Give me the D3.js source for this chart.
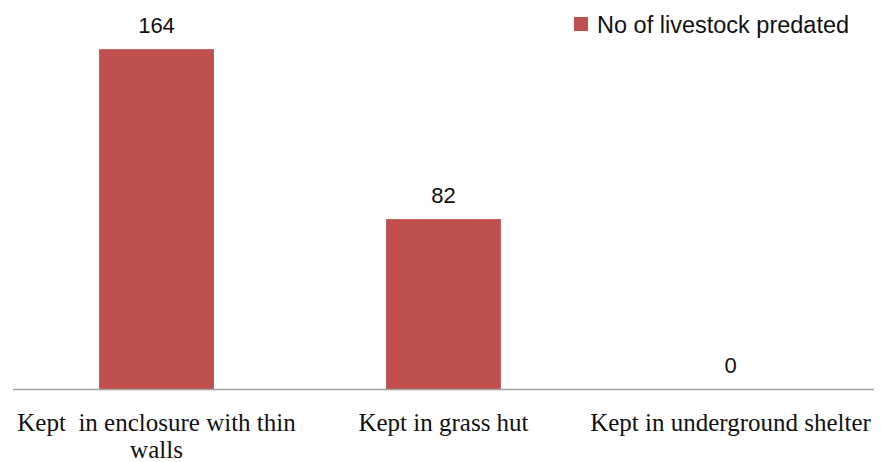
<!DOCTYPE html>
<html>
<head>
<meta charset="utf-8">
<script src="https://cdn.jsdelivr.net/npm/d3@7"></script>
<style>
  html, body { margin: 0; padding: 0; background: #fff; }
  svg { display: block; }
</style>
</head>
<body>
<svg id="chart" width="881" height="462"></svg>
<script>
// Livestock predation by housing type
const categories = [
  ["Kept  in enclosure with thin", "walls"],
  ["Kept in grass hut"],
  ["Kept in underground shelter"]
];
const values = [164, 82, 0];
const seriesName = "No of livestock predated";
const yMax = 180;

const svg = d3.select("#chart");
const plot = { left: 13, right: 874, top: 16, bottom: 389 };
const barColor = "#C0504D";
const sansFont = "'Liberation Sans', Arial, sans-serif";
const serifFont = "'Liberation Serif', 'Times New Roman', serif";

const x = d3.scaleBand()
  .domain(d3.range(categories.length))
  .range([plot.left, plot.right])
  .paddingInner(0.6)
  .paddingOuter(0.3);

const y = d3.scaleLinear()
  .domain([0, yMax])
  .range([plot.bottom, plot.top]);

// bars
svg.append("g").selectAll("rect")
  .data(values)
  .join("rect")
  .attr("x", (d, i) => x(i))
  .attr("y", d => y(d))
  .attr("width", x.bandwidth())
  .attr("height", d => y(0) - y(d))
  .attr("fill", barColor);

// value labels
svg.append("g").selectAll("text")
  .data(values)
  .join("text")
  .attr("x", (d, i) => x(i) + x.bandwidth() / 2)
  .attr("y", d => y(d) - 16.5)
  .attr("text-anchor", "middle")
  .attr("font-family", sansFont)
  .attr("font-size", 22)
  .attr("fill", "#111")
  .text(d => d);

// category axis
const xAxis = svg.append("g")
  .attr("transform", `translate(0,${plot.bottom})`)
  .call(d3.axisBottom(x).tickSize(0).tickFormat(() => ""));
xAxis.select(".domain")
  .attr("stroke", "#a0a0a0")
  .attr("stroke-width", 1.6)
  .attr("d", `M${plot.left},0.5H${plot.right}`);

xAxis.selectAll(".tick text").remove();
xAxis.selectAll(".tick").each(function (d) {
  const t = d3.select(this).append("text")
    .attr("text-anchor", "middle")
    .attr("font-family", serifFont)
    .attr("font-size", 25)
    .attr("fill", "#111")
    .style("white-space", "pre");
  categories[d].forEach((line, k) => {
    t.append("tspan")
      .attr("x", 0)
      .attr("y", 42 + k * 27)
      .text(line);
  });
});

// legend
const legend = svg.append("g");
legend.append("rect")
  .attr("x", 574).attr("y", 17)
  .attr("width", 14).attr("height", 14)
  .attr("fill", barColor);
legend.append("text")
  .attr("x", 597).attr("y", 33)
  .attr("font-family", sansFont)
  .attr("font-size", 23.5)
  .attr("fill", "#111")
  .text(seriesName);
</script>
</body>
</html>
